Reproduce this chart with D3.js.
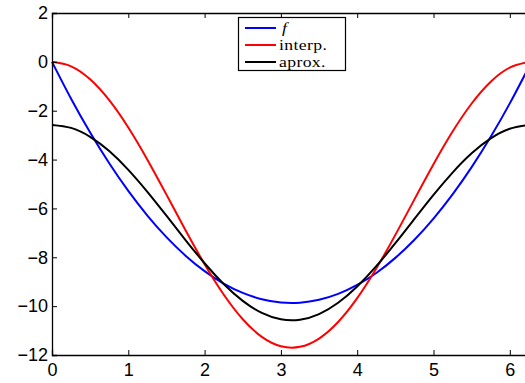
<!DOCTYPE html>
<html>
<head>
<meta charset="utf-8">
<script src="https://cdn.jsdelivr.net/npm/d3@7"></script>
<style>
  html, body { margin: 0; padding: 0; background: #fff; overflow: hidden; }
  svg { display: block; }
</style>
</head>
<body>
<div id="chart"></div>
<script>
// valores (paso 0.25 en x)
const xs = [0, 0.25, 0.5, 0.75, 1, 1.25, 1.5, 1.75, 2, 2.25, 2.5, 2.75, 3, 3.25, 3.5, 3.75, 4, 4.25, 4.5, 4.75, 5, 5.25, 5.5, 5.75, 6, 6.25];
const fVals = [0, -1.508, -2.892, -4.150, -5.283, -6.292, -7.175, -7.933, -8.566, -9.075, -9.458, -9.716, -9.850, -9.858, -9.741, -9.500, -9.133, -8.641, -8.024, -7.283, -6.416, -5.424, -4.308, -3.066, -1.699, -0.208];
const interpVals = [0, -0.182, -0.716, -1.570, -2.689, -4.005, -5.436, -6.893, -8.284, -9.525, -10.537, -11.257, -11.641, -11.666, -11.328, -10.650, -9.674, -8.460, -7.083, -5.630, -4.191, -2.854, -1.704, -0.812, -0.233, -0.003];
const aproxVals = [-2.580, -2.704, -3.070, -3.653, -4.419, -5.319, -6.297, -7.293, -8.245, -9.093, -9.785, -10.277, -10.540, -10.557, -10.326, -9.862, -9.195, -8.364, -7.423, -6.430, -5.445, -4.532, -3.745, -3.135, -2.739, -2.582];
const xTicks = [0, 1, 2, 3, 4, 5, 6];
const yTicks = [-12, -10, -8, -6, -4, -2, 0, 2];

const series = [
    { label: 'f', valores: fVals, color: '#0000ff', italic: true },
    { label: 'interp.', valores: interpVals, color: '#ff0000' },
    { label: 'aprox.', valores: aproxVals, color: '#000000' }
];

const W = 525, H = 383;
const svg = d3.select('#chart').append('svg')
    .attr('width', W)
    .attr('height', H);

const x = d3.scaleLinear().domain([0, 2 * Math.PI]).range([52, 52 + 2 * Math.PI * 76.3]);
const y = d3.scaleLinear().domain([-12, 2]).range([355, 13]);

const [x0, x1] = x.range();
const [yb, yt] = y.range();

// curvas
const linea = d3.line()
    .x((d, i) => x(xs[i]))
    .y(d => y(d))
    .curve(d3.curveNatural);

svg.selectAll('path.serie')
    .data(series)
    .enter()
    .append('path')
    .attr('class', 'serie')
    .attr('d', d => linea(d.valores))
    .attr('fill', 'none')
    .attr('stroke', d => d.color)
    .attr('stroke-width', 2);

// marco y ticks (estilo matlab, hacia dentro)
const ejes = svg.append('g');
const tickFont = '"Liberation Sans", Arial, sans-serif';

const ejeX = d3.axisBottom(x).tickValues(xTicks).tickSize(-5).tickPadding(8).tickFormat(d3.format('d'));
const ejeXTop = d3.axisTop(x).tickValues(xTicks).tickSize(-5).tickFormat('');
const ejeY = d3.axisLeft(y).tickValues(yTicks).tickSize(-5).tickPadding(4)
    .tickFormat(d => d < 0 ? '\u2212' + Math.abs(d) : String(d));
const ejeYRight = d3.axisRight(y).tickValues(yTicks).tickSize(-5).tickFormat('');

ejes.append('g').attr('transform', `translate(0,${yb})`).call(ejeX);
ejes.append('g').attr('transform', `translate(0,${yt})`).call(ejeXTop);
ejes.append('g').attr('transform', `translate(${x0},0)`).call(ejeY);
ejes.append('g').attr('transform', `translate(${x1},0)`).call(ejeYRight);

ejes.selectAll('.domain').attr('stroke', '#000').attr('stroke-width', 1.3);
ejes.selectAll('.tick line').attr('stroke', '#000').attr('stroke-width', 1);
ejes.selectAll('.tick text')
    .attr('fill', '#000')
    .style('font-family', tickFont)
    .style('font-size', '18px');

// leyenda
const leg = svg.append('g');
leg.append('rect')
    .attr('x', 238.5).attr('y', 17.5)
    .attr('width', 107).attr('height', 53)
    .attr('fill', '#fff')
    .attr('stroke', '#000')
    .attr('stroke-width', 1.2);

const filas = leg.selectAll('g.fila')
    .data(series)
    .enter()
    .append('g')
    .attr('class', 'fila')
    .attr('transform', (_, i) => `translate(245, ${[28, 45, 62][i]})`);

filas.append('line')
    .attr('x1', 0).attr('x2', 31)
    .attr('y1', 0).attr('y2', 0)
    .attr('stroke', d => d.color)
    .attr('stroke-width', 2);

// texto algo estirado en horizontal para que no se pisen las cajas
filas.append('text')
    .attr('transform', d => `translate(${d.italic ? 37 : 34}, 4.5) scale(1.22, 1)`)
    .text(d => d.label)
    .style('font-family', '"Liberation Serif", "Times New Roman", serif')
    .style('font-size', '14.5px')
    .style('letter-spacing', '0.3px')
    .style('font-style', d => d.italic ? 'italic' : 'normal')
    .attr('fill', '#000');
</script>
</body>
</html>
